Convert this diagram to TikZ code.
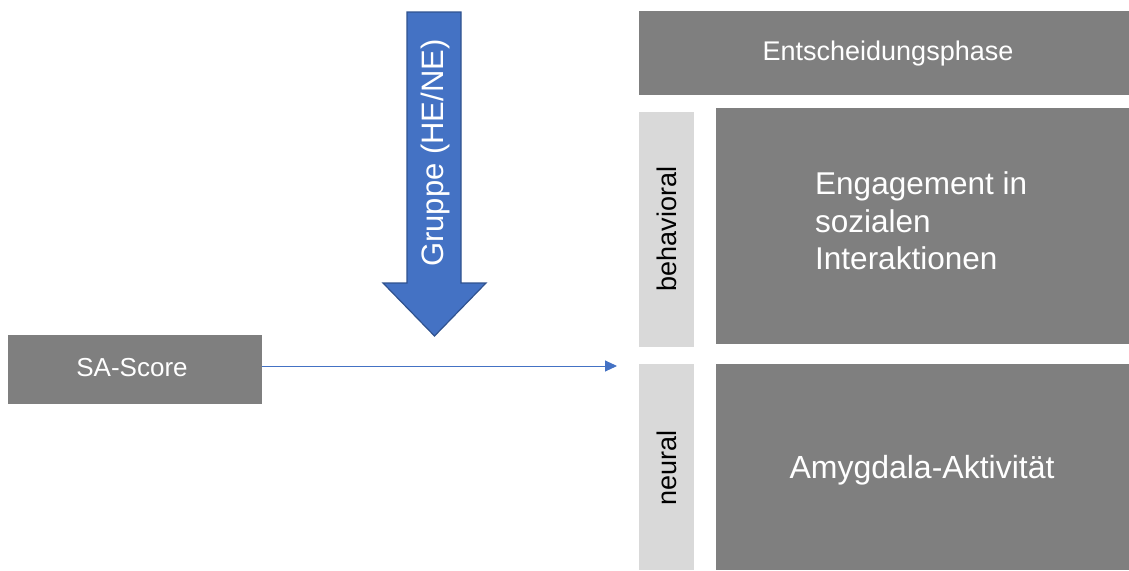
\documentclass[tikz,border=0pt]{standalone}
\usepackage{fontspec}
\setmainfont{Liberation Sans}
\usetikzlibrary{arrows.meta}
\definecolor{boxgray}{HTML}{7F7F7F}
\definecolor{sidegray}{HTML}{D9D9D9}
\definecolor{arrowblue}{HTML}{4472C4}
\definecolor{arrowedge}{HTML}{2F528F}
\begin{document}
\begin{tikzpicture}[x=1pt,y=-1pt,
  darkbox/.style={fill=boxgray, draw=none, inner sep=0pt, text=white, rectangle},
  sidebox/.style={fill=sidegray, draw=none, inner sep=0pt, text=black, rectangle},
  link/.style={draw=arrowblue, line width=1pt, -{Triangle[length=12pt,width=11pt]}}
]
\useasboundingbox (0,0) rectangle (1129,570);

% right column
\node[darkbox, minimum width=490pt, minimum height=84pt] (phase) at (884,53) {};
\node[text=white, inner sep=0pt, font=\fontsize{27}{32}\selectfont] (phasetxt) at (888,54) {Entscheidungsphase};
\node[sidebox, minimum width=55pt, minimum height=235pt] (behav) at (666.5,229.5) {};
\node[rotate=90, text=black, inner sep=0pt, font=\fontsize{27}{32}\selectfont] (behavtxt) at (667,229) {behavioral};
\node[darkbox, minimum width=413pt, minimum height=236pt] (eng) at (922.5,226) {};
\node[anchor=west, align=left, text=white, inner sep=0pt, font=\fontsize{31.5}{37.5}\selectfont] (engtxt) at (815,221) {Engagement in\\sozialen\\Interaktionen};
\node[sidebox, minimum width=55pt, minimum height=206pt] (neur) at (666.5,467) {};
\node[rotate=90, text=black, inner sep=0pt, font=\fontsize{27}{32}\selectfont] (neurtxt) at (667,468) {neural};
\node[darkbox, minimum width=413pt, minimum height=206pt] (amy) at (922.5,467) {};
\node[text=white, inner sep=0pt, font=\fontsize{32}{38}\selectfont] (amytxt) at (922,470) {Amygdala-Aktivität};

% SA-Score
\node[darkbox, minimum width=254pt, minimum height=69pt] (sa) at (135,369.5) {};
\node[text=white, inner sep=0pt, font=\fontsize{26}{30}\selectfont] (satxt) at (132,368) {SA-Score};
\coordinate (tip) at (617,366);
\draw[link] (sa.east |- tip) -- (tip);

% big arrow
\draw[fill=arrowblue, draw=arrowedge, line width=1.2pt, line join=miter]
  (407,12) -- (461,12) -- (461,283) -- (486,283) -- (434.5,336) -- (383,283) -- (407,283) -- cycle;
\node[rotate=90, text=white, inner sep=0pt, font=\fontsize{31}{36}\selectfont] (grp) at (435,153) {Gruppe (HE/NE)};
\end{tikzpicture}
\end{document}
